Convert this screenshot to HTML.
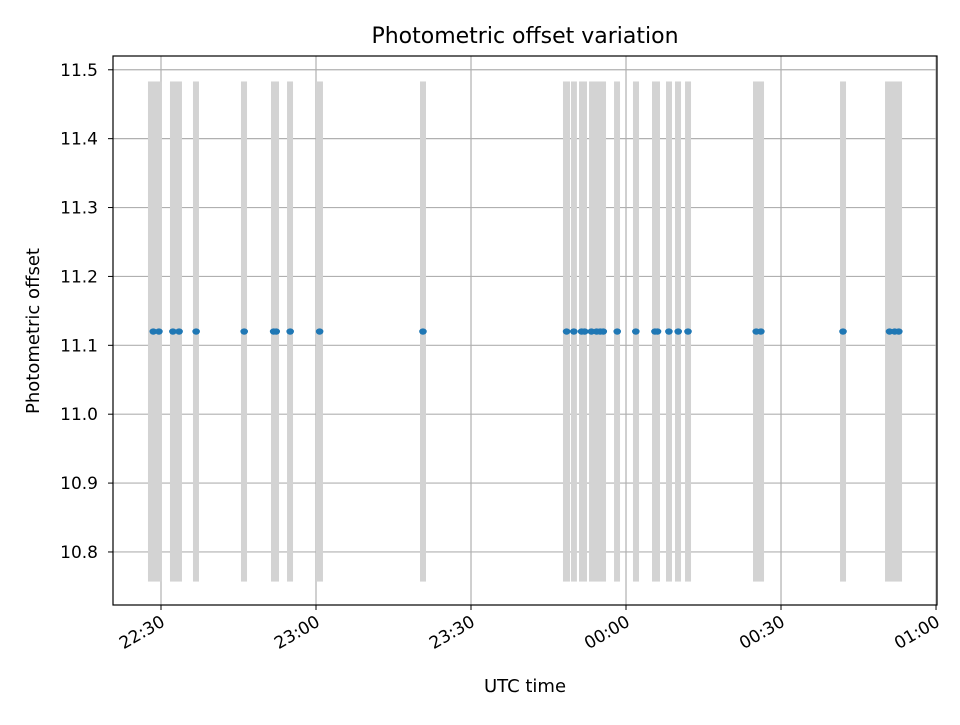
<!DOCTYPE html>
<html><head><meta charset="utf-8"><style>
body{margin:0;background:#fff}
text{font-family:"DejaVu Sans","Liberation Sans",sans-serif;fill:#000}
</style></head><body>
<svg id="chart" width="960" height="720" xmlns="http://www.w3.org/2000/svg">
<rect width="960" height="720" fill="#fff"/>
<g id="grid"></g>
<g id="bars"></g>
<g id="dots"></g>
<rect x="113" y="56" width="824" height="549" fill="none" stroke="#000" stroke-width="1.2"/>
<g id="ticks"></g>
<text x="525" y="43" text-anchor="middle" font-size="22">Photometric offset variation</text>
<text x="525" y="692" text-anchor="middle" font-size="18">UTC time</text>
<text transform="translate(39,331) rotate(-90)" text-anchor="middle" font-size="18">Photometric offset</text>
</svg>
<script>
// minutes after 22:00 UTC
const barStarts=[27.48,31.74,36.19,45.48,51.29,54.39,60.0,80.13,107.8,109.35,110.9,112.84,117.68,121.35,125.03,127.74,129.48,131.42,144.58,161.42,170.13];
const barEnds=[30.19,34.06,37.35,46.65,52.84,55.55,61.35,81.29,109.16,110.5,112.45,116.13,118.84,122.52,126.58,128.9,130.65,132.58,146.71,162.58,173.42];
const barLow=10.757, barHigh=11.483;
const pointTimes=[28.5,29.6,32.3,33.5,36.8,46.1,51.8,52.3,55.0,60.7,80.7,108.5,109.9,111.4,112.0,113.3,114.3,115.0,115.6,118.3,121.9,125.6,126.1,128.3,130.1,132.0,145.2,146.1,162.0,171.0,172.0,172.8];
const pointValues=pointTimes.map(()=>11.12);
const xTickVals=[30,60,90,120,150,180];
const xTickLabels=["22:30","23:00","23:30","00:00","00:30","01:00"];
const yTickVals=[10.8,10.9,11.0,11.1,11.2,11.3,11.4,11.5];
const yTickLabels=["10.8","10.9","11.0","11.1","11.2","11.3","11.4","11.5"];
const X0=113,X1=937,Y0=56,Y1=605,xmin=20.71,xmax=180.19,ymin=10.723,ymax=11.520;
const xs=t=>X0+(t-xmin)/(xmax-xmin)*(X1-X0);
const ys=v=>Y1-(v-ymin)/(ymax-ymin)*(Y1-Y0);
const NS="http://www.w3.org/2000/svg";
function mk(tag,attrs,parent){const e=document.createElementNS(NS,tag);for(const k in attrs)e.setAttribute(k,attrs[k]);document.getElementById(parent).appendChild(e);return e;}
xTickVals.forEach((t,i)=>{const x=xs(t);
 const g=mk('line',{x1:x,x2:x,y1:Y0,y2:Y1,stroke:'#b0b0b0','stroke-width':1.2},'grid');
 
 const tk=mk('line',{x1:x,x2:x,y1:Y1,y2:Y1+5,stroke:'#000'},'ticks');
 
 const tx=mk('text',{transform:`translate(${x+5},${Y1+20}) rotate(-30)`,'text-anchor':'end','font-size':17},'ticks');
 tx.textContent=xTickLabels[i];
 });
yTickVals.forEach((v,i)=>{const y=ys(v);
 const g=mk('line',{x1:X0,x2:X1,y1:y,y2:y,stroke:'#b0b0b0','stroke-width':1.2},'grid');
 
 const tk=mk('line',{x1:X0-5,x2:X0,y1:y,y2:y,stroke:'#000'},'ticks');
 
 const tx=mk('text',{x:X0-15,y:y+6,'text-anchor':'end','font-size':17},'ticks');
 tx.textContent=yTickLabels[i];
 });
barStarts.forEach((s,i)=>{const x=xs(s),w=xs(barEnds[i])-x;
 const r=mk('rect',{x:x,y:ys(barHigh),width:w,height:ys(barLow)-ys(barHigh),fill:'#d3d3d3'},'bars');
 });
pointTimes.forEach((t,i)=>{
 const c=mk('ellipse',{cx:xs(t),cy:ys(pointValues[i]),rx:3.8,ry:3.2,fill:'#1f77b4'},'dots');
 });
</script>
</body></html>
